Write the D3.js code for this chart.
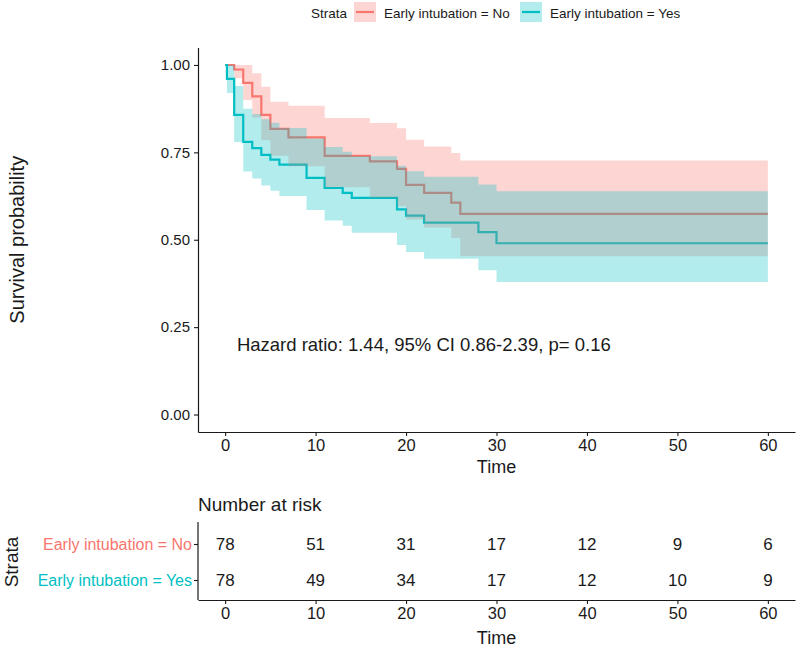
<!DOCTYPE html>
<html>
<head>
<meta charset="utf-8">
<script src="https://cdn.jsdelivr.net/npm/d3@7"></script>
<style>
  body { margin: 0; background: #fff; }
  svg { font-family: "Liberation Sans", Arial, sans-serif; }
</style>
</head>
<body>
<svg width="797" height="649"></svg>
<script>
// survival steps, Early intubation = No
var timesNo = [0, 1, 2, 3, 4, 5, 7, 11, 16, 19, 20, 22, 25, 26, 60]
var survNo  = [1, 0.987, 0.949, 0.91, 0.857, 0.817, 0.793, 0.74, 0.724, 0.703, 0.657, 0.634, 0.606, 0.574, 0.574]
var upperNo = [1, 1, 1, 0.976, 0.938, 0.895, 0.883, 0.848, 0.834, 0.819, 0.786, 0.767, 0.748, 0.727, 0.727]
var lowerNo = [1, 0.962, 0.9, 0.85, 0.785, 0.74, 0.71, 0.65, 0.62, 0.596, 0.558, 0.535, 0.505, 0.453, 0.453]

// survival steps, Early intubation = Yes
var timesYes = [0, 0.2, 1, 2, 3, 4, 5, 6, 9, 11, 13, 14, 19, 20, 22, 28, 30, 60]
var survYes  = [1, 0.96, 0.857, 0.78, 0.762, 0.743, 0.729, 0.715, 0.677, 0.648, 0.634, 0.62, 0.587, 0.569, 0.549, 0.522, 0.49, 0.49]
var upperYes = [1, 1, 0.94, 0.875, 0.86, 0.845, 0.835, 0.82, 0.79, 0.765, 0.752, 0.739, 0.712, 0.696, 0.68, 0.658, 0.639, 0.639]
var lowerYes = [1, 0.92, 0.78, 0.695, 0.675, 0.655, 0.64, 0.625, 0.585, 0.555, 0.54, 0.52, 0.485, 0.465, 0.446, 0.413, 0.379, 0.379]

var strataNames = ["Early intubation = No", "Early intubation = Yes"]
var strataColors = ["#F8766D", "#00BFC4"]

var xTicks = [0, 10, 20, 30, 40, 50, 60]
var yTicks = [0, 0.25, 0.5, 0.75, 1]

// number at risk table
var riskTimes = [0, 10, 20, 30, 40, 50, 60]
var riskNo  = [78, 51, 31, 17, 12, 9, 6]
var riskYes = [78, 49, 34, 17, 12, 10, 9]

var hrText = "Hazard ratio: 1.44, 95% CI 0.86-2.39, p= 0.16"

var svg = d3.select("svg")
var ink = "#1a1a1a"

var toRows = function(times, s, lo, hi)
{
    return times.map(function(t, i){
        return {t: t, s: s[i], lo: lo[i], hi: hi[i]}
    })
}
var curves = [
    toRows(timesNo, survNo, lowerNo, upperNo),
    toRows(timesYes, survYes, lowerYes, upperYes)
]

var xScale = d3.scaleLinear().domain([-3, 63]).range([198, 795])
var yScale = d3.scaleLinear().domain([-0.05, 1.05]).range([432, 47.5])

var plot = svg.append("g").attr("id", "plot")

var line = d3.line()
    .x(function(d){ return xScale(d.t) })
    .y(function(d){ return yScale(d.s) })
    .curve(d3.curveStepAfter)

var band = d3.area()
    .x(function(d){ return xScale(d.t) })
    .y0(function(d){ return yScale(d.lo) })
    .y1(function(d){ return yScale(d.hi) })
    .curve(d3.curveStepAfter)

// lines first, then the ribbons on top (as ggsurvplot does)
plot.selectAll(".km")
    .data(curves)
    .enter()
    .append("path")
    .attr("class", "km")
    .attr("d", line)
    .attr("fill", "none")
    .attr("stroke", function(d, i){ return strataColors[i] })
    .attr("stroke-width", 2.2)

plot.selectAll(".ci")
    .data(curves)
    .enter()
    .append("path")
    .attr("class", "ci")
    .attr("d", band)
    .attr("fill", function(d, i){ return strataColors[i] })
    .attr("fill-opacity", 0.3)

//
// AXES
//
var styleAxis = function(g, size)
{
    g.select(".domain").attr("stroke", ink).attr("stroke-width", 1.2)
    g.selectAll(".tick line").attr("stroke", ink).attr("stroke-width", 1.1)
    g.selectAll(".tick text").attr("fill", ink).style("font-size", size + "px")
}

svg.append("g")
    .attr("transform", "translate(0,432)")
    .call(d3.axisBottom(xScale).tickValues(xTicks).tickSize(4).tickSizeOuter(0).tickPadding(3))
    .call(styleAxis, 16.5)

svg.append("g")
    .attr("transform", "translate(198,0)")
    .call(d3.axisLeft(yScale).tickValues(yTicks).tickFormat(d3.format(".2f")).tickSize(4).tickSizeOuter(0).tickPadding(4))
    .call(styleAxis, 15)

svg.append("text")
    .attr("x", (198 + 795) / 2).attr("y", 473)
    .attr("text-anchor", "middle")
    .style("font-size", "18px").attr("fill", ink)
    .text("Time")

svg.append("text")
    .attr("transform", "translate(24," + (47.5 + 432) / 2 + ") rotate(-90)")
    .attr("text-anchor", "middle")
    .style("font-size", "20px").attr("fill", ink)
    .text("Survival probability")

svg.append("text")
    .attr("x", xScale(1.3)).attr("y", yScale(0.2))
    .attr("dy", "0.36em")
    .style("font-size", "18.5px").attr("fill", ink)
    .text(hrText)

//
// LEGEND
//
var legend = svg.append("g").attr("id", "legend")
legend.append("text")
    .attr("x", 311).attr("y", 18)
    .style("font-size", "13.5px").attr("fill", ink)
    .text("Strata")

var keyX = [354, 520]
strataNames.forEach(function(name, i)
{
    var k = legend.append("g").attr("transform", "translate(" + keyX[i] + ",2)")
    k.append("rect")
        .attr("width", 22).attr("height", 20)
        .attr("fill", strataColors[i]).attr("fill-opacity", 0.3)
    k.append("line")
        .attr("x1", 2).attr("x2", 20).attr("y1", 10).attr("y2", 10)
        .attr("stroke", strataColors[i]).attr("stroke-width", 2.2)
    k.append("text")
        .attr("x", 30).attr("y", 16)
        .style("font-size", "13.5px").attr("fill", ink)
        .text(name)
})

//
// RISK TABLE
//
var tableY = d3.scalePoint().domain(strataNames).range([544, 580])
var table = svg.append("g").attr("id", "table")

table.append("text")
    .attr("x", 198).attr("y", 511)
    .style("font-size", "19px").attr("fill", ink)
    .text("Number at risk")

var riskRows = [riskNo, riskYes]
riskRows.forEach(function(row, r)
{
    table.selectAll(".risk" + r)
        .data(row)
        .enter()
        .append("text")
        .attr("class", "risk" + r)
        .attr("x", function(v, i){ return xScale(riskTimes[i]) })
        .attr("y", tableY(strataNames[r]))
        .attr("dy", "0.36em")
        .attr("text-anchor", "middle")
        .style("font-size", "17px").attr("fill", ink)
        .text(function(v){ return v })
})

var tAxisY = svg.append("g")
    .attr("transform", "translate(198,0)")
    .call(d3.axisLeft(tableY).tickSize(4).tickSizeOuter(0).tickPadding(2))
tAxisY.select(".domain").attr("d", "M0,522V600").attr("stroke", ink).attr("stroke-width", 1.2)
tAxisY.selectAll(".tick line").attr("stroke", ink).attr("stroke-width", 1.1)
tAxisY.selectAll(".tick text")
    .style("font-size", "16px")
    .attr("fill", function(d, i){ return strataColors[i] })

svg.append("g")
    .attr("transform", "translate(0,600)")
    .call(d3.axisBottom(xScale).tickValues(riskTimes).tickSize(4).tickSizeOuter(0).tickPadding(3))
    .call(styleAxis, 16.5)

svg.append("text")
    .attr("x", (198 + 795) / 2).attr("y", 644)
    .attr("text-anchor", "middle")
    .style("font-size", "18px").attr("fill", ink)
    .text("Time")

svg.append("text")
    .attr("transform", "translate(18,562) rotate(-90)")
    .attr("text-anchor", "middle")
    .style("font-size", "19px").attr("fill", ink)
    .text("Strata")
</script>
</body>
</html>
